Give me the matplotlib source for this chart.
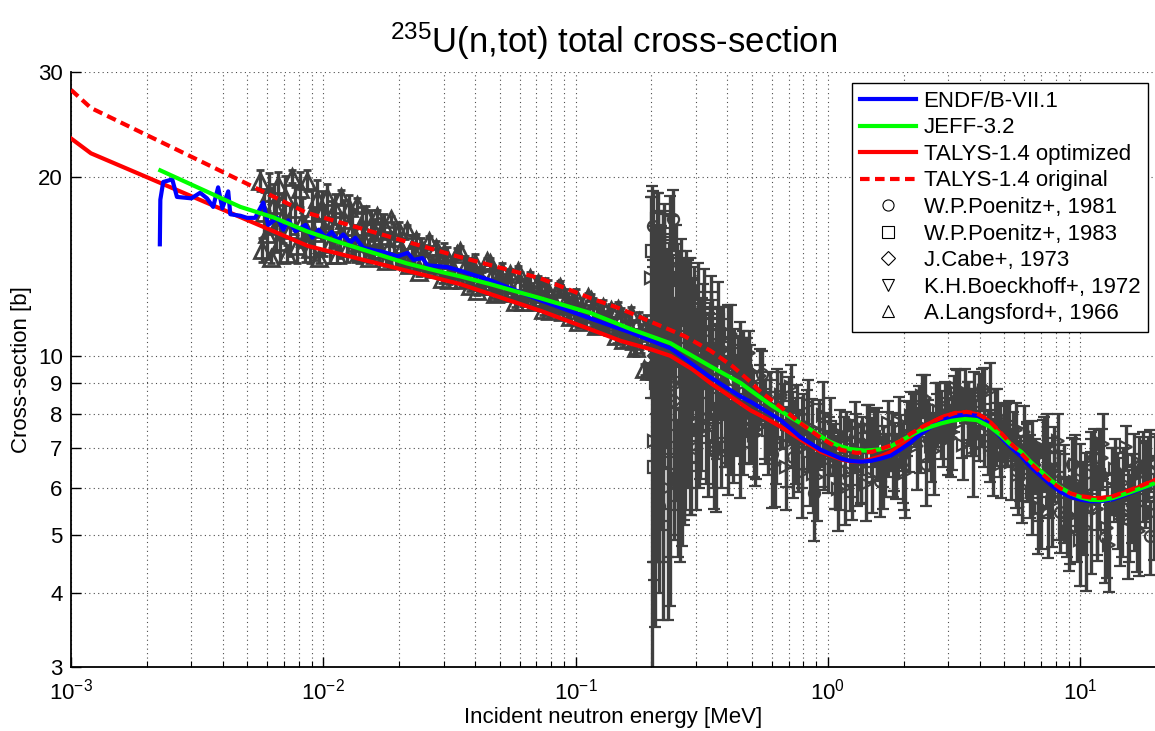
import matplotlib
matplotlib.use('Agg')
import matplotlib.pyplot as plt
from matplotlib.lines import Line2D
from matplotlib.ticker import FixedLocator, FixedFormatter, LogLocator, NullLocator

plt.rcParams['font.family'] = ['Liberation Sans', 'DejaVu Sans']
plt.rcParams['mathtext.fontset'] = 'custom'
plt.rcParams['mathtext.rm'] = 'Liberation Sans'
plt.rcParams['mathtext.it'] = 'Liberation Sans:italic'
plt.rcParams['mathtext.default'] = 'regular'

# ---------------- evaluated curves ----------------
endf_e = [0.00225, 0.00226, 0.00232, 0.00252, 0.00263, 0.0030, 0.00325, 0.00346, 0.00366, 0.00383,
          0.00398, 0.0042, 0.00428, 0.00469, 0.00499, 0.00537, 0.00578, 0.00605, 0.00657, 0.00695,
          0.00727, 0.00776, 0.0085, 0.00905, 0.0096, 0.0102, 0.0108, 0.0114, 0.0120, 0.0128,
          0.0134, 0.0144, 0.0158, 0.0173, 0.0197, 0.0216, 0.0228, 0.0247, 0.0259, 0.031,
          0.035, 0.0459, 0.0726, 0.115, 0.165, 0.238, 0.343, 0.45, 0.5, 0.65,
          0.78, 0.94, 1.13, 1.23, 1.35, 1.48, 1.62, 1.78, 1.95, 2.13,
          2.34, 2.6, 2.9, 3.2, 3.55, 3.9, 4.3, 4.86, 5.3, 5.84,
          6.4, 7.0, 7.7, 8.41, 9.2, 10.1, 11.0, 12.1, 13.5, 15.8,
          17.8, 20.0]
endf_v = [15.4, 18.3, 19.6, 19.8, 18.5, 18.4, 18.8, 18.4, 17.8, 19.2,
          17.7, 18.9, 17.3, 17.2, 17.06, 17.06, 18.1, 16.6, 17.06, 16.3,
          16.9, 16.2, 16.6, 15.8, 16.3, 15.8, 16.15, 15.65, 16.0, 15.5,
          15.8, 15.2, 15.05, 14.95, 14.7, 14.9, 14.5, 14.6, 14.2, 14.1,
          13.9, 13.4, 12.4, 11.55, 10.95, 10.3, 9.2, 8.55, 8.35, 7.8,
          7.3, 6.95, 6.72, 6.66, 6.64, 6.66, 6.72, 6.8, 6.97, 7.15,
          7.4, 7.62, 7.82, 7.93, 7.97, 7.93, 7.72, 7.3, 7.03, 6.78,
          6.5, 6.28, 6.06, 5.9, 5.79, 5.73, 5.7, 5.7, 5.74, 5.88,
          6.0, 6.12]

jeff_e = [0.00226, 0.00469, 0.00633, 0.0086, 0.0117, 0.0158, 0.0215, 0.0291, 0.035, 0.0459,
          0.0726, 0.115, 0.165, 0.238, 0.343, 0.452, 0.494, 0.6, 0.782, 1.0,
          1.12, 1.23, 1.4, 1.6, 1.78, 2.13, 2.34, 2.6, 2.81, 3.1,
          3.5, 3.9, 4.4, 4.86, 5.3, 5.84, 6.4, 7.0, 7.7, 8.41,
          9.2, 10.1, 11.0, 12.1, 13.5, 15.8, 17.8, 20.0]
jeff_v = [20.5, 17.8, 17.1, 16.2, 15.5, 14.9, 14.3, 13.85, 13.6, 13.2,
          12.5, 11.8, 11.1, 10.5, 9.6, 9.0, 8.75, 8.25, 7.7, 7.2,
          7.05, 6.97, 6.93, 6.96, 7.05, 7.35, 7.5, 7.62, 7.7, 7.78,
          7.83, 7.8, 7.6, 7.35, 7.1, 6.9, 6.62, 6.4, 6.17, 6.0,
          5.87, 5.78, 5.73, 5.72, 5.77, 5.9, 6.01, 6.12]

talys_e = [0.001, 0.0012, 0.0087, 0.035, 0.073, 0.12, 0.151, 0.2, 0.238, 0.29,
           0.343, 0.41, 0.494, 0.57, 0.651, 0.782, 0.94, 1.13, 1.23, 1.35,
           1.48, 1.62, 1.78, 1.95, 2.13, 2.34, 2.6, 2.9, 3.2, 3.55,
           3.9, 4.3, 4.86, 5.3, 5.84, 6.4, 7.0, 7.7, 8.41, 9.2,
           10.1, 11.0, 12.1, 13.5, 15.8, 17.8, 20.0]
talys_v = [23.2, 21.9, 15.3, 13.2, 11.9, 11.0, 10.6, 10.25, 10.0, 9.5,
           9.0, 8.55, 8.1, 7.85, 7.6, 7.23, 6.9, 6.7, 6.65, 6.64,
           6.7, 6.78, 6.9, 7.08, 7.3, 7.55, 7.75, 7.92, 8.01, 8.04,
           7.98, 7.8, 7.4, 7.12, 6.85, 6.58, 6.35, 6.13, 5.97, 5.86,
           5.8, 5.77, 5.76, 5.8, 5.94, 6.06, 6.19]

orig_e = [0.001, 0.0012, 0.0086, 0.034, 0.0726, 0.115, 0.151, 0.2, 0.27, 0.343,
          0.42, 0.494, 0.542, 0.651, 0.782, 0.94, 1.13, 1.3, 1.5, 1.78,
          1.95, 2.13, 2.4, 2.81, 3.2, 3.55, 3.9, 4.3, 4.86, 5.3,
          5.84, 6.4, 7.0, 7.7, 8.41, 9.2, 10.1, 11.0, 12.1, 13.5,
          15.8, 17.8, 20.0]
orig_v = [28.0, 26.1, 17.4, 14.7, 13.5, 12.5, 12.0, 11.4, 10.8, 10.2,
          9.6, 9.04, 8.7, 8.2, 7.7, 7.28, 6.95, 6.87, 6.9, 7.07,
          7.2, 7.4, 7.62, 7.87, 8.02, 8.05, 8.0, 7.82, 7.42, 7.13,
          6.86, 6.59, 6.36, 6.14, 5.98, 5.87, 5.81, 5.78, 5.77, 5.81,
          5.95, 6.07, 6.2]

# ---------------- experimental data ----------------
# A.Langsford+, 1966
lang_e = [0.00560, 0.00572, 0.00584, 0.00596, 0.00609, 0.00622, 0.00635, 0.00648, 0.00662, 0.00676,
          0.00690, 0.00705, 0.00720, 0.00736, 0.00753, 0.00770, 0.00788, 0.00806, 0.00824, 0.00843,
          0.00862, 0.00882, 0.00902, 0.00922, 0.00943, 0.00965, 0.00987, 0.0101, 0.0103, 0.0106,
          0.0108, 0.0111, 0.0113, 0.0116, 0.0118, 0.0121, 0.0124, 0.0127, 0.0130, 0.0133,
          0.0136, 0.0139, 0.0142, 0.0145, 0.0148, 0.0152, 0.0155, 0.0159, 0.0163, 0.0166,
          0.0170, 0.0174, 0.0178, 0.0182, 0.0186, 0.0191, 0.0195, 0.0200, 0.0204, 0.0209,
          0.0214, 0.0219, 0.0224, 0.0229, 0.0234, 0.0240, 0.0245, 0.0251,
          0.0263, 0.0275, 0.0288, 0.0302, 0.0316, 0.0331, 0.0347, 0.0363, 0.0380, 0.0398,
          0.0417, 0.0437, 0.0457, 0.0479, 0.0501, 0.0525, 0.0550, 0.0575, 0.0603, 0.0631,
          0.0661, 0.0692, 0.0724, 0.0759, 0.0794, 0.0832, 0.0871, 0.0912, 0.0955, 0.1000,
          0.1047, 0.1096, 0.1148, 0.1202, 0.1259, 0.1318, 0.1380, 0.1445, 0.1514, 0.1585,
          0.1660, 0.1738, 0.1820, 0.1905, 0.1950,
          0.0269, 0.0281, 0.0295, 0.0309, 0.0323, 0.0339, 0.0355, 0.0371, 0.0389, 0.0407,
          0.0427, 0.0447, 0.0468, 0.0490, 0.0513, 0.0537, 0.0562, 0.0589, 0.0617, 0.0646,
          0.0676, 0.0708, 0.0741, 0.0776, 0.0813, 0.0851, 0.0891, 0.0933, 0.0977, 0.1023,
          0.1072, 0.1122, 0.1175, 0.1230, 0.1288, 0.1349, 0.1413, 0.1479, 0.1549, 0.1622,
          0.1698, 0.1778, 0.1862, 0.1928]
lang_v = [19.7, 15.07, 17.36, 16.05, 18.78, 14.6, 17.92, 16.56, 19.38, 15.55,
          17.09, 18.48, 14.83, 16.3, 20.0, 17.64, 15.3, 19.08, 16.82, 15.8,
          19.7, 15.13, 17.41, 16.07, 18.36, 14.6, 17.46, 16.34, 18.47, 15.44,
          16.68, 17.68, 14.8, 15.98, 18.5, 16.91, 15.17, 17.75, 16.24, 15.5,
          17.93, 14.95, 16.47, 15.61, 17.24, 14.6, 16.62, 15.8, 17.2, 15.04,
          15.88, 16.53, 14.45, 15.25, 17.0, 15.77, 14.49, 16.22, 15.15, 14.61,
          16.28, 14.19, 15.17, 14.56, 15.65, 13.83, 15.2, 14.63,
          15.59, 14.01, 14.5, 14.9, 13.4, 13.87, 15.0, 14.11, 13.13, 14.33,
          13.51, 13.1, 14.31, 12.73, 13.44, 12.91, 13.71, 12.3, 13.31, 12.78,
          13.54, 12.32, 12.73, 13.03, 11.88, 12.23, 13.05, 12.34, 11.61, 12.54,
          11.93, 11.55, 12.43, 11.23, 11.76, 11.38, 11.94, 10.8, 11.54, 11.01,
          11.77, 10.3, 10.73, 11.2, 9.43,
          14.27, 15.17, 13.45, 14.63, 14.02, 14.86, 13.42, 13.86, 14.2, 12.84,
          13.31, 14.42, 13.64, 12.78, 13.9, 13.15, 12.76, 13.87, 12.32, 13.0,
          12.52, 13.24, 11.93, 12.83, 12.35, 12.97, 11.83, 12.15, 12.43, 11.4,
          11.74, 12.55, 11.92, 11.29, 12.1, 11.52, 11.18, 12.01, 10.65, 11.19,
          10.58, 11.45, 9.5, 10.94]
lang_err = [0.8, 0.7, 1.5, 1.5, 1.5, 0.3, 1.5, 1.6, 1.0, 1.2,
            1.6, 1.6, 0.5, 1.6, 0.5, 1.6, 1.0, 1.3, 1.6, 1.4,
            0.8, 0.8, 1.6, 1.6, 1.4, 0.3, 1.5, 1.6, 1.0, 1.1,
            1.5, 1.0, 0.5, 1.4, 0.5, 1.4, 0.8, 0.9, 1.4, 1.1,
            0.5, 0.6, 1.3, 1.2, 0.6, 0.3, 1.0, 1.2, 0.4, 0.6,
            1.2, 0.8, 0.3, 0.9, 0.2, 0.9, 0.4, 0.6, 0.9, 0.5,
            0.3, 0.3, 0.8, 0.6, 0.4, 0.2, 0.6, 0.7,
            0.3, 0.4, 0.7, 0.6, 0.2, 0.6, 0.3, 0.6, 0.3, 0.5,
            0.6, 0.4, 0.3, 0.2, 0.6, 0.5, 0.3, 0.2, 0.5, 0.6,
            0.3, 0.3, 0.6, 0.5, 0.2, 0.5, 0.3, 0.6, 0.3, 0.4,
            0.6, 0.4, 0.3, 0.2, 0.5, 0.5, 0.3, 0.3, 0.5, 0.5,
            0.3, 0.3, 0.6, 0.5, 0.3,
            0.5, 0.4, 0.2, 0.6, 0.5, 0.3, 0.3, 0.6, 0.4, 0.2,
            0.5, 0.2, 0.6, 0.3, 0.4, 0.6, 0.3, 0.3, 0.2, 0.6,
            0.5, 0.4, 0.2, 0.6, 0.5, 0.3, 0.3, 0.6, 0.4, 0.2,
            0.5, 0.2, 0.6, 0.3, 0.3, 0.6, 0.4, 0.3, 0.3, 0.6,
            0.5, 0.4, 0.2, 0.5]

# K.H.Boeckhoff+, 1972
boe_e = [0.200, 0.205, 0.212, 0.218, 0.225, 0.232, 0.240, 0.248, 0.256, 0.265,
         0.275, 0.285, 0.296, 0.308, 0.320, 0.334, 0.348, 0.362, 0.378, 0.395,
         0.412, 0.430, 0.450, 0.470, 0.492, 0.515, 0.540, 0.565, 0.592, 0.620,
         0.650, 0.682, 0.715, 0.750, 0.787, 0.826, 0.867, 0.910, 0.955, 1.00,
         1.05, 1.10, 1.16, 1.22, 1.28, 1.35, 1.42, 1.49, 1.57, 1.65,
         1.74, 1.83, 1.93, 2.03, 2.14, 2.25, 2.37, 2.50, 2.63, 2.77,
         2.92, 3.07, 3.23, 3.40, 3.58, 3.77, 3.97, 4.18, 4.40, 4.63,
         4.88, 5.14, 5.41, 5.70, 6.00, 6.32, 6.65, 7.00, 7.37, 7.76,
         8.17, 8.60, 9.05, 9.53, 10.0, 10.6, 11.1, 11.7, 12.3, 13.0,
         13.7, 14.4, 15.2, 16.0, 16.8, 17.7, 18.6, 19.6,
         0.2025, 0.2126, 0.2232, 0.2344, 0.2461, 0.2584, 0.2714, 0.2849, 0.2992, 0.3141,
         0.3298, 0.3463, 0.3636, 0.3818, 0.4009, 0.4209, 0.4420, 0.4641, 0.4873, 0.5117,
         0.5372, 0.5641, 0.5923, 0.6219, 0.6530, 0.6857, 0.7200, 0.7560, 0.7938, 0.8335,
         0.8751, 0.9189, 0.9648, 1.013, 1.064, 1.117, 1.173, 1.231, 1.293, 1.358,
         1.425, 1.497, 1.572, 1.650, 1.733, 1.819, 1.910, 2.006, 2.106, 2.211,
         2.322, 2.438, 2.560, 2.688, 2.822, 2.963, 3.112, 3.267, 3.431, 3.602,
         3.782, 3.971, 4.170, 4.378, 4.597, 4.827, 5.069, 5.322, 5.588, 5.868,
         6.161, 6.469, 6.793, 7.132, 7.489, 7.863, 8.257, 8.669, 9.103, 9.558,
         10.04, 10.54, 11.07, 11.62, 12.20, 12.81, 13.45, 14.12, 14.83, 15.57,
         16.35, 17.17, 18.03, 18.93, 19.88]
boe_v = [13.5, 7.2, 15.8, 8.6, 12.6, 6.0, 14.2, 8.9, 11.8, 7.4,
         13.0, 8.2, 11.9, 8.0, 11.2, 7.6, 10.6, 7.06, 10.18, 8.01,
         10.89, 8.45, 6.97, 9.0, 9.05, 7.35, 9.26, 7.69, 8.11, 6.58,
         8.5, 7.11, 8.87, 7.3, 6.35, 7.57, 7.56, 6.27, 7.94, 6.69,
         6.99, 5.98, 7.29, 6.38, 7.66, 6.66, 6.08, 7.05, 7.16, 6.33,
         7.71, 6.82, 7.26, 6.35, 7.91, 7.05, 8.57, 7.54, 6.93, 8.09,
         8.24, 7.27, 8.82, 7.73, 8.13, 7.0, 8.53, 7.41, 8.72, 7.43,
         6.57, 7.44, 7.35, 6.30, 7.44, 6.35, 6.55, 5.54, 6.89, 5.67,
         7.18, 5.85, 5.05, 6.15, 6.21, 5.13, 6.66, 5.53, 7.1, 4.81,
         6.45, 5.43, 7.03, 5.84, 5.13, 6.36, 6.51, 5.44,
         9.5, 13.0, 7.5, 11.5, 9.0, 12.0, 8.0, 10.5, 9.0, 10.2,
         9.11, 9.61, 8.02, 10.32, 7.03, 8.81, 9.62, 7.97, 10.12, 7.36,
         8.64, 7.9, 8.21, 7.19, 8.59, 6.5, 7.59, 8.05, 7.0, 8.3,
         6.34, 7.44, 6.85, 7.1, 6.43, 7.4, 6.0, 6.79, 7.19, 6.53,
         7.56, 6.24, 7.16, 6.81, 7.15, 6.6, 7.74, 6.41, 7.37, 7.91,
         7.26, 8.48, 7.05, 8.12, 7.72, 8.1, 7.44, 8.67, 7.09, 8.05,
         8.51, 7.66, 8.74, 7.05, 7.9, 7.27, 7.41, 6.63, 7.52, 6.03,
         6.69, 6.96, 6.18, 7.01, 5.48, 6.49, 5.91, 6.17, 5.37, 6.55,
         4.91, 5.86, 6.34, 5.53, 6.74, 5.13, 6.2, 5.74, 6.11, 5.4,
         6.69, 5.07, 6.13, 6.7, 5.88]
boe_err = [5.0, 3.0, 3.0, 3.5, 3.4, 2.4, 3.0, 3.2, 2.8, 2.6,
           2.0, 2.8, 2.2, 2.0, 2.0, 1.8, 1.8, 1.6, 1.9, 1.5,
           1.3, 1.6, 1.2, 1.7, 1.4, 1.3, 1.0, 1.1, 1.3, 1.0,
           0.9, 1.1, 0.8, 1.2, 1.0, 1.2, 0.9, 1.0, 1.1, 0.8,
           0.7, 0.9, 0.6, 0.9, 0.7, 1.0, 0.8, 0.8, 1.0, 0.8,
           0.7, 0.9, 0.7, 1.0, 0.8, 1.1, 0.7, 0.9, 1.1, 0.9,
           0.8, 1.0, 0.7, 1.0, 0.9, 1.2, 0.8, 0.9, 1.0, 0.9,
           0.8, 0.9, 0.7, 0.9, 0.8, 1.0, 0.7, 0.8, 1.1, 0.9,
           0.8, 1.0, 0.7, 1.1, 0.9, 1.1, 0.8, 0.9, 0.9, 0.8,
           0.8, 1.0, 0.6, 1.0, 0.8, 1.1, 0.8, 0.9,
           5.0, 4.5, 3.0, 4.0, 3.5, 3.0, 2.5, 2.6, 2.4, 2.2,
           1.4, 1.5, 1.3, 1.2, 1.2, 1.5, 1.1, 1.4, 0.9, 1.1,
           1.0, 1.2, 0.9, 1.1, 0.8, 1.0, 1.1, 0.9, 1.0, 0.8,
           0.9, 1.0, 0.9, 0.8, 0.9, 0.7, 0.8, 1.0, 0.8, 0.9,
           0.7, 0.8, 0.9, 0.8, 0.9, 0.8, 0.8, 0.9, 1.0, 0.8,
           0.9, 0.8, 0.9, 0.9, 1.0, 0.9, 1.0, 0.8, 0.9, 1.0,
           0.9, 1.0, 0.8, 0.9, 0.9, 1.0, 0.9, 0.9, 0.8, 0.8,
           1.0, 0.8, 0.9, 0.8, 0.9, 0.8, 1.0, 0.9, 0.9, 0.8,
           0.8, 1.0, 0.9, 1.0, 0.8, 0.9, 0.8, 1.0, 0.9, 0.9,
           0.7, 0.8, 1.0, 0.8, 0.9]

# W.P.Poenitz+, 1981
p81_e = [0.203, 0.215, 0.228, 0.244, 0.26, 0.28, 0.30, 0.325, 0.355, 0.385,
         0.42, 0.46, 0.50, 0.55, 0.60, 0.66, 0.73, 0.80, 0.88, 0.97,
         1.07, 1.18, 1.31, 1.45, 1.61, 1.79, 1.98, 2.2, 2.44, 2.7,
         3.0, 3.32, 3.68, 4.08, 4.52, 5.0, 5.55, 6.15, 6.8, 7.55,
         8.35, 9.25, 10.3, 11.4, 12.6, 14.0, 15.5, 17.2, 19.0]
p81_v = [16.5, 5.6, 11.0, 17.0, 6.3, 12.3, 7.0, 10.3, 6.93, 9.01,
         7.72, 9.82, 7.97, 9.31, 6.85, 7.97, 6.77, 7.84, 5.88, 7.02,
         6.42, 7.35, 6.59, 7.57, 6.17, 7.21, 6.67, 7.82, 6.59, 7.82,
         7.41, 8.68, 7.8, 8.79, 6.82, 7.45, 6.44, 7.03, 5.54, 6.24,
         5.46, 6.59, 5.63, 6.74, 4.96, 6.06, 5.32, 6.5, 4.99]
p81_err = [2.4, 1.6, 4.0, 2.0, 1.8, 2.2, 1.5, 1.5, 1.4, 1.2,
           1.6, 1.2, 1.4, 0.9, 1.3, 1.0, 1.0, 0.8, 1.0, 1.0,
           0.9, 0.7, 1.0, 0.7, 0.8, 0.8, 1.0, 0.8, 1.0, 0.8,
           1.1, 0.8, 1.0, 0.7, 1.0, 0.8, 0.9, 0.7, 0.9, 0.9,
           0.8, 0.7, 1.0, 0.8, 0.8, 0.8, 1.1, 0.8, 0.7]

# W.P.Poenitz+, 1983
p83_e = [0.201, 0.209, 0.222, 0.236, 0.252, 0.27, 0.29, 0.315, 0.345, 0.40,
         0.48, 0.58, 0.70, 0.85, 1.02, 1.25, 1.52, 1.87, 2.3, 2.85,
         3.5, 4.3, 5.25, 6.45, 7.9, 9.7, 11.9, 14.6, 17.9,
         0.2005, 0.204, 0.2075, 0.211, 0.2145, 0.218, 0.2215, 0.225, 0.229, 0.233,
         0.237, 0.241, 0.245, 0.2495, 0.254, 0.2585, 0.263, 0.268, 0.273, 0.278,
         0.283, 0.288, 0.293, 0.299, 0.305, 0.311, 0.317, 0.323, 0.33, 0.337,
         0.344, 0.352, 0.36, 0.368, 0.376, 0.385, 0.394, 0.404, 0.414, 0.425,
         0.436, 0.448, 0.46, 0.473, 0.487]
p83_v = [11.0, 9.0, 14.5, 6.6, 12.8, 9.8, 10.9, 8.7, 11.3, 8.2,
         9.3, 7.5, 8.2, 6.6, 7.6, 6.2, 7.3, 6.55, 8.1, 7.3,
         8.6, 7.2, 7.6, 5.9, 6.7, 5.3, 6.3, 5.5, 6.4,
         15.0, 6.5, 11.0, 17.0, 8.5, 13.0, 5.4, 15.5, 10.0, 7.0,
         16.0, 12.0, 8.0, 14.0, 6.2, 10.5, 13.5, 7.5, 11.5, 9.0,
         12.8, 6.8, 10.8, 8.3, 12.5, 7.5, 10.0, 12.0, 7.3, 9.8,
         11.8, 7.0, 9.5, 11.5, 7.1, 10.5, 8.4, 10.8, 7.2, 9.6,
         8.2, 10.2, 7.2, 9.4, 7.9]
p83_err = [8.3, 4.5, 2.8, 2.8, 2.6, 4.6, 2.6, 2.3, 1.5, 1.6,
           1.4, 1.2, 1.0, 1.0, 0.9, 0.9, 0.8, 0.8, 0.8, 0.8,
           0.9, 0.9, 0.8, 0.9, 0.9, 0.8, 1.2, 0.9, 0.8,
           3.5, 2.0, 3.0, 1.8, 2.5, 3.5, 1.8, 2.5, 3.0, 2.4,
           2.6, 2.8, 3.0, 2.6, 1.6, 3.0, 2.2, 2.2, 2.8, 3.0,
           1.8, 1.4, 2.6, 1.9, 1.8, 1.3, 2.5, 2.0, 1.2, 2.0,
           1.8, 1.0, 1.8, 1.8, 1.1, 1.6, 1.6, 1.4, 0.9, 1.5,
           1.4, 1.2, 0.9, 1.3, 1.3]

# J.Cabe+, 1973
cab_e = [0.207, 0.224, 0.246, 0.272, 0.303, 0.34, 0.39, 0.44, 0.52, 0.63,
         0.76, 0.92, 1.12, 1.37, 1.68, 2.06, 2.55, 3.15, 3.85, 4.7,
         5.8, 7.2, 8.9, 11.0, 13.4, 16.4, 19.8]
cab_v = [10.0, 12.0, 8.4, 11.6, 9.6, 10.0, 8.1, 9.5, 7.6, 8.4,
         7.0, 7.4, 6.4, 7.1, 6.6, 7.6, 7.2, 8.35, 7.6, 7.9,
         6.5, 6.9, 5.4, 5.6, 6.2, 5.6, 6.6]
cab_err = [6.5, 5.5, 3.5, 2.6, 2.4, 2.0, 1.6, 1.3, 1.4, 1.1,
           1.1, 0.9, 0.9, 0.8, 0.8, 0.8, 0.8, 0.9, 0.8, 0.9,
           0.8, 1.0, 0.8, 1.3, 0.8, 0.9, 0.8]

ytick_vals = [3, 4, 5, 6, 7, 8, 9, 10, 20, 30]
ytick_labels = ['3', '4', '5', '6', '7', '8', '9', '10', '20', '30']

curve_labels = ['ENDF/B-VII.1', 'JEFF-3.2', 'TALYS-1.4 optimized', 'TALYS-1.4 original']
exp_labels = ['W.P.Poenitz+, 1981', 'W.P.Poenitz+, 1983', 'J.Cabe+, 1973',
              'K.H.Boeckhoff+, 1972', 'A.Langsford+, 1966']

# ---------------- figure ----------------
gray = '#404040'
fig = plt.figure(figsize=(11.55, 7.31), dpi=100)
ax = fig.add_axes([71 / 1155, 64 / 731, 1085 / 1155, 595 / 731])
ax.set_xscale('log')
ax.set_yscale('log')

ax.errorbar(lang_e, lang_v, yerr=lang_err, fmt='^', ms=11, mfc='none', mec=gray, mew=2.0,
            ecolor=gray, elinewidth=2.4, capsize=3, capthick=1.6, zorder=2)
for e, v, err, mk, ms in [(boe_e, boe_v, boe_err, '>', 9),
                          (p81_e, p81_v, p81_err, 'o', 8),
                          (p83_e, p83_v, p83_err, 's', 8),
                          (cab_e, cab_v, cab_err, 'D', 7)]:
    ax.errorbar(e, v, yerr=err, fmt=mk, ms=ms, mfc='none', mec=gray, mew=1.6,
                ecolor=gray, elinewidth=2.4, capsize=4.5, capthick=1.8, zorder=2)

ax.plot(talys_e, talys_v, color='#ff0000', lw=3, zorder=4)
ax.plot(endf_e, endf_v, color='#0000ff', lw=3, zorder=5)
ax.plot(jeff_e, jeff_v, color='#00ff00', lw=3, zorder=6)
ax.plot(orig_e, orig_v, color='#ff0000', lw=3, ls=(0, (2.3, 1.3)), zorder=7)

ax.set_xlim(1e-3, 20)
ax.set_ylim(3, 30)

ax.xaxis.set_major_locator(LogLocator(base=10))
ax.xaxis.set_minor_locator(LogLocator(base=10, subs=[2, 3, 4, 5, 6, 7, 8, 9]))
ax.yaxis.set_major_locator(FixedLocator(ytick_vals))
ax.yaxis.set_major_formatter(FixedFormatter(ytick_labels))
ax.yaxis.set_minor_locator(NullLocator())

ax.grid(True, which='both', axis='x', ls=(0, (1, 3)), color='0.3', lw=0.8)
ax.grid(True, which='major', axis='y', ls=(0, (1, 3)), color='0.3', lw=0.8)

for s in ['top', 'right']:
    ax.spines[s].set_visible(False)
for s in ['left', 'bottom']:
    ax.spines[s].set_linewidth(1.3)

ax.tick_params(which='major', direction='in', length=7, width=1.0, labelsize=16,
               top=False, right=False)
ax.tick_params(which='minor', direction='in', length=4, width=0.8, top=False, right=False)
ax.tick_params(axis='x', which='major', pad=8)
ax.tick_params(axis='y', which='major', pad=6)

ax.set_xlabel('Incident neutron energy [MeV]', fontsize=16)
ax.set_ylabel('Cross-section [b]', fontsize=16)
ax.xaxis.set_label_coords(0.5, -0.068)
ax.yaxis.set_label_coords(-0.036, 0.5)
ax.set_title(r'$^{235}$U(n,tot) total cross-section', fontsize=25, pad=14)

handles = [Line2D([], [], color='#0000ff', lw=3),
           Line2D([], [], color='#00ff00', lw=3),
           Line2D([], [], color='#ff0000', lw=3),
           Line2D([], [], color='#ff0000', lw=3, ls=(0, (2.3, 1.3)))]
for mk in ['o', 's', 'D', 'v', '^']:
    handles.append(Line2D([], [], ls='none', marker=mk, ms=8 if mk != 'D' else 7,
                          mfc='none', mec='black', mew=0.8))
leg = ax.legend(handles, curve_labels + exp_labels, loc='upper right',
                bbox_to_anchor=(1148 / 1155, 1 - 83 / 731), bbox_transform=fig.transFigure,
                fontsize=16, frameon=True, fancybox=False, edgecolor='black', framealpha=1,
                borderaxespad=0, handlelength=2.5, handletextpad=0.35, labelspacing=0.25,
                borderpad=0.35)
leg.get_frame().set_linewidth(1.0)
leg.set_zorder(10)

fig.savefig('out.png', dpi=100)
